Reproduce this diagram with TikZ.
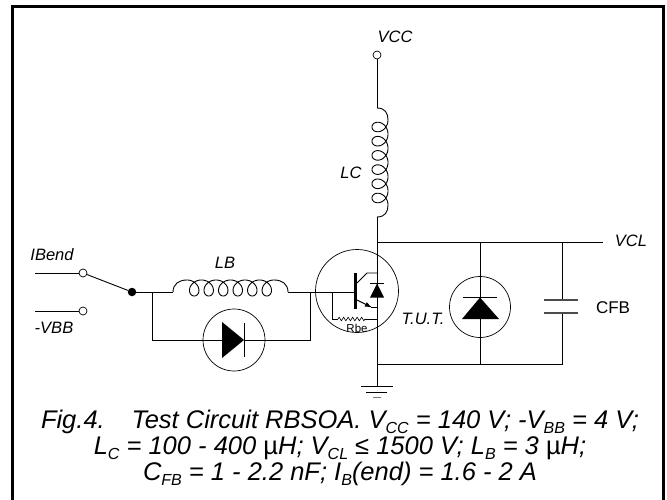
\documentclass[tikz,border=0pt]{standalone}
\usepackage{fontspec}
\setmainfont{Liberation Sans}
\usetikzlibrary{arrows.meta,decorations.pathmorphing}
\newcommand{\mysub}[1]{\raisebox{-0.2em}{\fontsize{16}{16}\selectfont #1}}
\begin{document}
\begin{tikzpicture}[x=1pt,y=-1pt,
  wire/.style={line width=0.9pt},
  thin circ/.style={circle,draw,line width=0.7pt,inner sep=0pt},
  term/.style={circle,draw,line width=0.7pt,minimum size=8pt,inner sep=0pt,fill=white},
  lbl/.style={font=\fontsize{16.5}{18}\selectfont\itshape,inner sep=0pt},
  ulbl/.style={font=\fontsize{17}{19}\selectfont,inner sep=0pt},
  capblock/.style={font=\fontsize{25.5}{26}\selectfont\itshape,inner sep=0pt,anchor=base,align=center},
  plate/.style={line width=1.3pt,draw=black!70},
  gndline/.style={line width=0.8pt},
]
\useasboundingbox (0,0) rectangle (667,500);
% frame
\draw[line width=2.5pt] (12.5,530) -- (12.5,6.5) -- (663.5,6.5) -- (663.5,530);

% ---- VCC and collector inductor LC
\node[term] (vcc) at (377,55) {};
\node[lbl] (vcclbl) at (395,37) {VCC};
\coordinate (lct) at (377,108);
\coordinate (lcb) at (377,217);
\draw[wire] (vcc) -- (lct);
\draw[wire] (lct) .. controls (385,108) and (388,113) .. (388,119.9);
\draw[wire] plot[domain=pi:13*pi,samples=500,variable=\t] ({380-8*cos(\t r)},{112.8+2.26*\t-8*sin(\t r)});
\draw[wire] (388,205.1) .. controls (388,212) and (385,217) .. (lcb);
\node[lbl] (lclbl) at (351,173) {LC};

% ---- main vertical and rails
\coordinate (r1) at (377,242);
\coordinate (vclend) at (603,242);
\coordinate (b1) at (377,364);
\coordinate (gnd) at (377,386);
\draw[wire] (lcb) -- (gnd);
\draw[wire] (r1) -- (vclend);
\node[lbl] (vcllbl) at (631,241) {VCL};
\coordinate (tutt) at (480,242);
\coordinate (tutb) at (480,364);
\coordinate (capt) at (562,242);
\coordinate (capb) at (562,364);
\draw[wire] (b1) -- (capb) -- (562,313);
\draw[wire] (capt) -- (562,300);
\draw[plate] (544,300) -- (578,300);
\draw[plate] (544,313) -- (578,313);
\node[ulbl] (cfblbl) at (613,308) {CFB};

% ---- T.U.T. diode
\draw[wire] (tutt) -- (tutb);
\node[thin circ,minimum size=61pt] (tut) at (480,307) {};
\draw[line width=1pt] (463,297) -- (497,297);
\fill (462,319) -- (499,319) -- (480,297.5) -- cycle;
\node[lbl] (tutlbl) at (423,319) {T.U.T.};

% ---- ground
\draw[gndline] (361,386) -- (393,386);
\draw[gndline] (366,392) -- (387,392);
\draw[gndline,draw=black!55] (373,397) -- (381,397);

% ---- transistor
\node[thin circ,minimum size=83pt] (q) at (357,291) {};
\draw[line width=3pt] (355.5,273) -- (355.5,308.5);
\draw[wire] (357,283) -- (367,273) -- (377,273);
\draw[wire] (371,307.5) -- (377,307.5);
\draw[wire,-{Latex[length=7pt,width=5pt]}] (357,300) -- (372,307.5);
\draw[line width=1pt] (370,283.5) -- (384,283.5);
\fill (370,297.5) -- (384,297.5) -- (377,283.5) -- cycle;
% Rbe
\coordinate (rb1) at (332,292);
\draw[wire] (rb1) -- (332,319) -- (338,319);
\draw[line width=0.6pt,decorate,decoration={zigzag,segment length=4.5pt,amplitude=1.8pt}] (338,319) -- (365,319);
\draw[wire] (365,319) -- (377,319);
\node[font=\fontsize{11.5}{12}\selectfont,inner sep=0pt] (rbelbl) at (357,328) {Rbe};

% ---- base circuit
\node[term] (ib) at (83,273) {};
\node[term] (vbb) at (83,311) {};
\coordinate (ibw) at (35,273);
\coordinate (vbbw) at (35,311);
\draw[wire] (ibw) -- (ib);
\draw[wire] (vbbw) -- (vbb);
\node[circle,fill,inner sep=0pt,minimum size=8.5pt] (dot) at (132,292) {};
\draw[wire] (ib) -- (dot);
\node[lbl] (iblbl) at (52,255) {IBend};
\node[lbl] (vbblbl) at (54,328) {-VBB};

\coordinate (lbl) at (173,292);
\coordinate (lbr) at (288,292);
\coordinate (jl) at (152,292);
\coordinate (jl2) at (152,340);
\coordinate (jr) at (310,292);
\coordinate (jr2) at (310,340);
\coordinate (base) at (354,292);
\draw[wire] (dot) -- (lbl);
\draw[wire] (lbl) .. controls (173,284) and (179,280) .. (186.96,280);
\draw[wire] plot[domain=pi:13*pi,samples=500,variable=\t] ({179.7+2.31*\t-8*sin(\t r)},{288+8*cos(\t r)});
\draw[wire] (274.05,280) .. controls (282,280) and (288,284) .. (lbr);
\draw[wire] (lbr) -- (base);
\node[lbl] (lblbl) at (225,263) {LB};

\node[thin circ,minimum size=62pt] (d1) at (234,340) {};
\draw[wire] (jl) -- (jl2) -- (222,340);
\draw[wire] (244.5,340) -- (jr2) -- (jr);
\fill (222,322) -- (244,340) -- (222,358) -- cycle;
\draw[line width=1pt] (244.5,323) -- (244.5,357);

% ---- caption (base anchor = baseline of last line)
\node[capblock] (cap) at (340,480) {Fig.4.\hspace{1.05em}Test Circuit RBSOA. V\mysub{CC} = 140 V; -V\mysub{BB} = 4 V;\\
L\mysub{C} = 100 - 400 {\upshape µ}H; V\mysub{CL} ≤ 1500 V; L\mysub{B} = 3 {\upshape µ}H;\\
C\mysub{FB} = 1 - 2.2 nF; I\mysub{B}(end) = 1.6 - 2 A};
\end{tikzpicture}
\end{document}
